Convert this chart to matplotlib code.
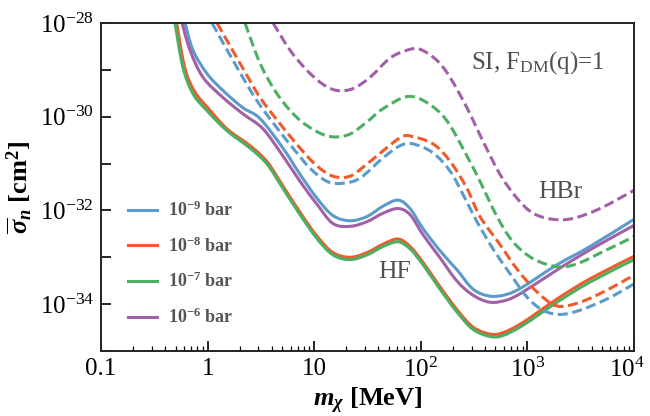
import numpy as np
import matplotlib
matplotlib.use("Agg")
import matplotlib.pyplot as plt
import matplotlib.transforms as mtransforms
from matplotlib.path import Path
from matplotlib.patches import PathPatch
from matplotlib.ticker import FixedLocator, FuncFormatter, LogLocator, NullFormatter

plt.rcParams['font.family'] = ['Liberation Serif', 'DejaVu Serif']
plt.rcParams['mathtext.fontset'] = 'custom'
plt.rcParams['mathtext.rm'] = 'Liberation Serif'
plt.rcParams['mathtext.it'] = 'Liberation Serif:italic:bold'
plt.rcParams['mathtext.bf'] = 'Liberation Serif:bold'

# ---- data: log10(m_chi / MeV), log10(sigma_n / cm^2) ----
# HF (solid)
hf_9_lm = [-0.212, -0.137, -0.006, 0.144, 0.332, 0.492, 0.707, 0.867, 1.026, 1.176, 1.336, 1.495, 1.645, 1.786, 1.899, 2.021, 2.180, 2.340, 2.490, 2.649, 2.809, 2.959, 3.278, 3.587, 4.0]
hf_9_ls = [-28.00, -28.58, -29.08, -29.44, -29.81, -30.04, -30.67, -31.23, -31.74, -32.11, -32.22, -32.13, -31.91, -31.78, -31.96, -32.39, -32.86, -33.27, -33.68, -33.83, -33.79, -33.63, -33.16, -32.77, -32.19]

hf_8_lm = [-0.29, -0.215, -0.12, 0.01, 0.182, 0.398, 0.557, 0.707, 0.867, 1.026, 1.176, 1.336, 1.495, 1.645, 1.786, 1.899, 2.021, 2.180, 2.340, 2.490, 2.649, 2.771, 2.959, 3.278, 3.587, 4.0]
hf_8_ls = [-28.00, -28.95, -29.47, -29.83, -30.26, -30.62, -30.96, -31.48, -32.04, -32.55, -32.90, -33.00, -32.90, -32.72, -32.61, -32.77, -33.11, -33.63, -34.12, -34.49, -34.64, -34.61, -34.39, -33.89, -33.46, -32.98]

hf_7_lm = [-0.306, -0.231, -0.137, -0.006, 0.182, 0.398, 0.557, 0.707, 0.867, 1.026, 1.176, 1.336, 1.495, 1.645, 1.786, 1.899, 2.021, 2.180, 2.340, 2.490, 2.649, 2.771, 2.959, 3.278, 3.587, 4.0]
hf_7_ls = [-28.00, -28.95, -29.51, -29.87, -30.30, -30.67, -31.01, -31.53, -32.09, -32.60, -32.95, -33.05, -32.95, -32.77, -32.67, -32.82, -33.16, -33.68, -34.17, -34.54, -34.69, -34.67, -34.45, -33.96, -33.53, -33.05]

hf_6_lm = [-0.240, -0.165, -0.043, 0.144, 0.332, 0.520, 0.707, 0.867, 1.026, 1.176, 1.336, 1.495, 1.645, 1.786, 1.899, 2.021, 2.180, 2.340, 2.490, 2.649, 2.809, 2.959, 3.278, 3.587, 4.0]
hf_6_ls = [-28.00, -28.58, -29.16, -29.59, -29.94, -30.26, -30.84, -31.38, -31.87, -32.28, -32.34, -32.24, -32.06, -31.96, -32.09, -32.52, -33.01, -33.51, -33.81, -33.96, -33.91, -33.74, -33.27, -32.84, -32.32]

# HBr (dashed)
hbr_9_lm = [0.041, 0.276, 0.463, 0.651, 0.801, 0.961, 1.120, 1.270, 1.430, 1.645, 1.805, 1.927, 2.114, 2.274, 2.396, 2.527, 2.677, 2.837, 2.996, 3.146, 3.306, 3.493, 3.747, 4.0]
hbr_9_ls = [-28.00, -28.95, -29.66, -30.24, -30.67, -31.10, -31.38, -31.42, -31.31, -30.88, -30.62, -30.58, -30.77, -31.16, -31.66, -32.24, -32.82, -33.35, -33.85, -34.13, -34.22, -34.13, -33.89, -33.57]

hbr_8_lm = [0.088, 0.304, 0.492, 0.679, 0.867, 1.026, 1.176, 1.336, 1.495, 1.645, 1.805, 1.899, 2.114, 2.274, 2.433, 2.555, 2.743, 2.902, 3.090, 3.278, 3.493, 3.747, 4.0]
hbr_8_ls = [-28.00, -28.86, -29.59, -30.15, -30.67, -31.05, -31.27, -31.27, -31.01, -30.73, -30.45, -30.41, -30.58, -30.95, -31.53, -32.13, -32.73, -33.25, -33.74, -34.04, -33.96, -33.70, -33.38]

hbr_7_lm = [0.351, 0.492, 0.651, 0.839, 1.026, 1.176, 1.336, 1.495, 1.645, 1.871, 2.058, 2.246, 2.433, 2.555, 2.715, 2.865, 3.053, 3.278, 3.465, 3.709, 4.0]
hbr_7_ls = [-28.00, -28.86, -29.51, -30.02, -30.32, -30.43, -30.37, -30.11, -29.83, -29.57, -29.70, -30.09, -30.84, -31.38, -32.13, -32.67, -33.03, -33.20, -33.14, -32.88, -32.56]

hbr_6_lm = [0.614, 0.773, 0.932, 1.083, 1.214, 1.364, 1.523, 1.711, 1.871, 1.992, 2.152, 2.274, 2.433, 2.583, 2.743, 2.902, 3.053, 3.240, 3.428, 3.681, 4.0]
hbr_6_ls = [-28.00, -28.58, -29.01, -29.31, -29.44, -29.40, -29.16, -28.75, -28.58, -28.56, -28.80, -29.16, -29.81, -30.52, -31.23, -31.74, -32.06, -32.19, -32.17, -31.96, -31.57]

labels = [r'$\mathbf{10^{-9}}$ bar', r'$\mathbf{10^{-8}}$ bar', r'$\mathbf{10^{-7}}$ bar', r'$\mathbf{10^{-6}}$ bar']
colors = ['#5b9bcb', '#ef5b2b', '#4caf64', '#a260a6']

xtick_vals = [0.1, 1, 10, 100, 1000, 10000]
xtick_labels = ['0.1', '1', '10', r'$10^2$', r'$10^3$', r'$10^4$']


def smooth_path(lm, ls):
    """Bezier path through the read points (Catmull-Rom in log space)."""
    P = np.column_stack([lm, ls]).astype(float)
    n = len(P)
    verts = [P[0]]
    codes = [Path.MOVETO]
    for i in range(n - 1):
        p0 = P[i - 1] if i > 0 else P[i]
        p1, p2 = P[i], P[i + 1]
        p3 = P[i + 2] if i + 2 < n else P[i + 1]
        c1 = p1 + (p2 - p0) / 6.0
        c2 = p2 - (p3 - p1) / 6.0
        verts += [c1, c2, p2]
        codes += [Path.CURVE4] * 3
    V = 10 ** np.array(verts)
    return Path(V, codes)


fig = plt.figure(figsize=(6.5, 4.16), dpi=100)
ax = fig.add_axes([0.1554, 0.1563, 0.82, 0.7884])

solid = [(hf_9_lm, hf_9_ls), (hf_8_lm, hf_8_ls), (hf_7_lm, hf_7_ls), (hf_6_lm, hf_6_ls)]
dashed = [(hbr_9_lm, hbr_9_ls), (hbr_8_lm, hbr_8_ls), (hbr_7_lm, hbr_7_ls), (hbr_6_lm, hbr_6_ls)]

LW = 2.2
DASH = (0, (3.3, 1.5))
for (lm, ls), c, lab in zip(solid, colors, labels):
    ax.add_patch(PathPatch(smooth_path(lm, ls), fill=False, edgecolor=c, lw=LW, capstyle='butt', joinstyle='round'))
    ax.plot([], [], color=c, lw=LW, label=lab)
for (lm, ls), c in zip(dashed, colors):
    ax.add_patch(PathPatch(smooth_path(lm, ls), fill=False, edgecolor=c, lw=LW, linestyle=DASH, capstyle='butt'))

ax.set_xscale('log')
ax.set_yscale('log')
ax.set_xlim(0.1, 1e4)
ax.set_ylim(1e-35, 1e-28)

ax.xaxis.set_major_locator(FixedLocator(xtick_vals))
ax.xaxis.set_major_formatter(FuncFormatter(lambda v, p: xtick_labels[xtick_vals.index(v)] if v in xtick_vals else ''))
ax.xaxis.set_minor_locator(LogLocator(base=10, subs=np.arange(2, 10)))
ax.xaxis.set_minor_formatter(NullFormatter())

yt = [10.0**e for e in range(-35, -27)]
ax.yaxis.set_major_locator(FixedLocator(yt))
ax.yaxis.set_major_formatter(FuncFormatter(lambda v, p: (r'$10^{%d}$' % round(np.log10(v))) if round(np.log10(v)) % 2 == 0 and round(np.log10(v)) > -35 else ''))
ax.yaxis.set_minor_locator(LogLocator(base=10, subs=np.arange(2, 10)))
ax.yaxis.set_minor_formatter(NullFormatter())

ax.tick_params(which='both', direction='in', top=False, right=False, labelsize=18, pad=5)
ax.tick_params(which='major', length=7, width=1.2)
ax.tick_params(which='minor', length=3.5, width=0.9)
for s in ax.spines.values():
    s.set_linewidth(1.4)
    s.set_color('#222222')

# nudge the last x tick label so it stays inside the figure
last_lbl = ax.xaxis.get_majorticklabels()[-1]
last_lbl.set_transform(last_lbl.get_transform() + mtransforms.ScaledTranslation(-5 / 72, 0, fig.dpi_scale_trans))

ax.set_xlabel(r'$m_\chi$ [MeV]', fontsize=19, fontweight='bold', labelpad=3)
ax.set_ylabel(r'$\overline{\sigma}_n$ [cm$^\mathbf{2}$]', fontsize=19, fontweight='bold', labelpad=4)

ax.text(0.945, 0.88, r'SI, F$_{\rm DM}$(q)=1', transform=ax.transAxes, fontsize=18, color='#505050', ha='right', va='center')
ax.text(0.861, 0.485, 'HBr', transform=ax.transAxes, fontsize=18.5, color='#505050', ha='center', va='center')
ax.text(0.55, 0.241, 'HF', transform=ax.transAxes, fontsize=18.5, color='#505050', ha='center', va='center')

leg = ax.legend(loc='lower left', bbox_to_anchor=(0.03, 0.04), frameon=False, fontsize=13,
                labelspacing=0.9, handlelength=1.6, handletextpad=0.6, borderaxespad=0.2)
for t in leg.get_texts():
    t.set_color('#555555')
    t.set_fontweight('bold')

fig.savefig('out.png', dpi=100)
